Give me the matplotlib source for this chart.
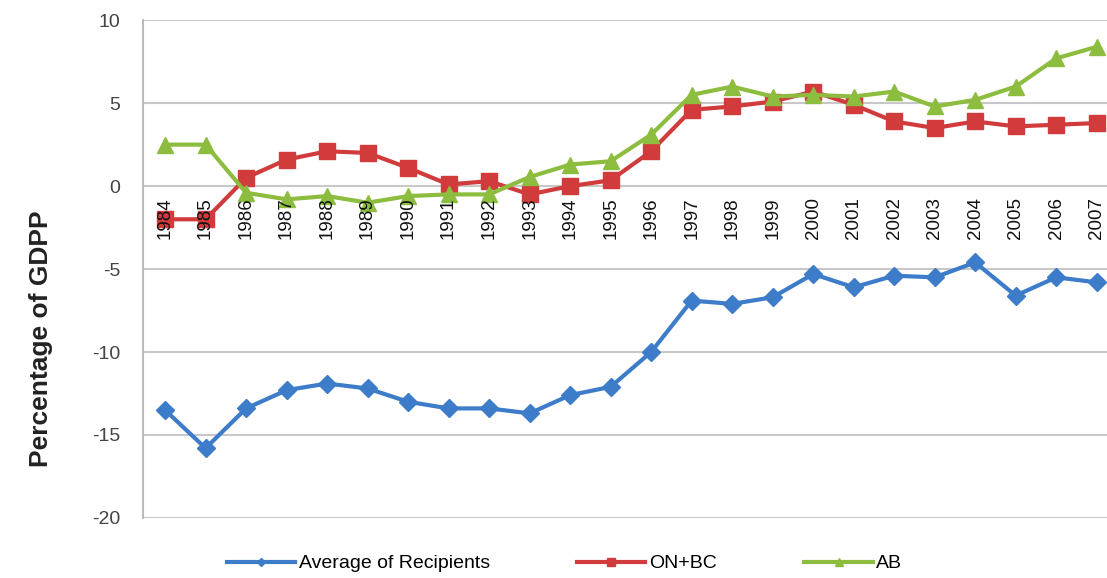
import matplotlib.pyplot as plt

# Data
years = [str(y) for y in range(1984, 2008)]

avg_recipients = [-13.5, -15.8, -13.4, -12.3, -11.9, -12.2, -13.0, -13.4, -13.4, -13.7,
                  -12.6, -12.1, -10.0, -6.9, -7.1, -6.7, -5.3, -6.1, -5.4, -5.5,
                  -4.6, -6.6, -5.5, -5.8]
on_bc = [-2.0, -2.0, 0.5, 1.6, 2.1, 2.0, 1.1, 0.1, 0.3, -0.5,
         0.0, 0.35, 2.1, 4.6, 4.8, 5.1, 5.7, 4.9, 3.9, 3.5,
         3.9, 3.6, 3.7, 3.8]
ab = [2.5, 2.5, -0.4, -0.8, -0.6, -1.0, -0.6, -0.5, -0.5, 0.55,
      1.3, 1.5, 3.1, 5.5, 6.0, 5.4, 5.5, 5.4, 5.7, 4.8,
      5.2, 6.0, 7.7, 8.4]

yticks = [10, 5, 0, -5, -10, -15, -20]

plt.rcParams['font.family'] = ['Liberation Sans', 'DejaVu Sans']

fig = plt.figure(figsize=(11.07, 5.78), dpi=100)
ax = fig.add_axes([0.129, 0.104, 0.88, 0.861])

x = list(range(len(years)))
ax.plot(x, avg_recipients, color='#3d7cc9', lw=3, marker='D', ms=9,
        label='Average of Recipients', zorder=3)
ax.plot(x, on_bc, color='#d13b3c', lw=3, marker='s', ms=11,
        label='ON+BC', zorder=3)
ax.plot(x, ab, color='#8dbd3f', lw=3, marker='^', ms=11,
        label='AB', zorder=4)

ax.set_ylim(-20, 10)
ax.set_xlim(-0.55, 23.5)
ax.set_yticks(yticks)
ax.set_yticklabels([str(t) for t in yticks], fontsize=14, color='#444444')
ax.grid(axis='y', color='#c8c8c8', lw=1.5)
# grid under the lines, year labels over them
ax.yaxis.set_zorder(0.5)
ax.xaxis.set_zorder(5)

for s in ['top', 'right', 'bottom']:
    ax.spines[s].set_visible(False)
ax.spines['left'].set_color('#bbbbbb')
ax.spines['left'].set_linewidth(1.5)
ax.tick_params(axis='y', length=0, pad=16)

# year labels hang just under the zero line
ax.spines['bottom'].set_position(('data', 0))
ax.set_xticks(x)
ax.set_xticklabels(years, rotation=90, fontsize=13.5, color='#111111')
ax.tick_params(axis='x', length=0, pad=8)

ax.set_ylabel('Percentage of GDPP', fontsize=19, fontweight='bold', color='#222222')
ax.yaxis.set_label_coords(-0.092, 0.36)

fig.legend(loc='center', bbox_to_anchor=(0.51, 0.025), ncol=3, frameon=False,
           fontsize=14, columnspacing=4.5, handlelength=3.5, markerscale=0.5,
           handletextpad=0.2)

fig.savefig('out.png', dpi=100)
